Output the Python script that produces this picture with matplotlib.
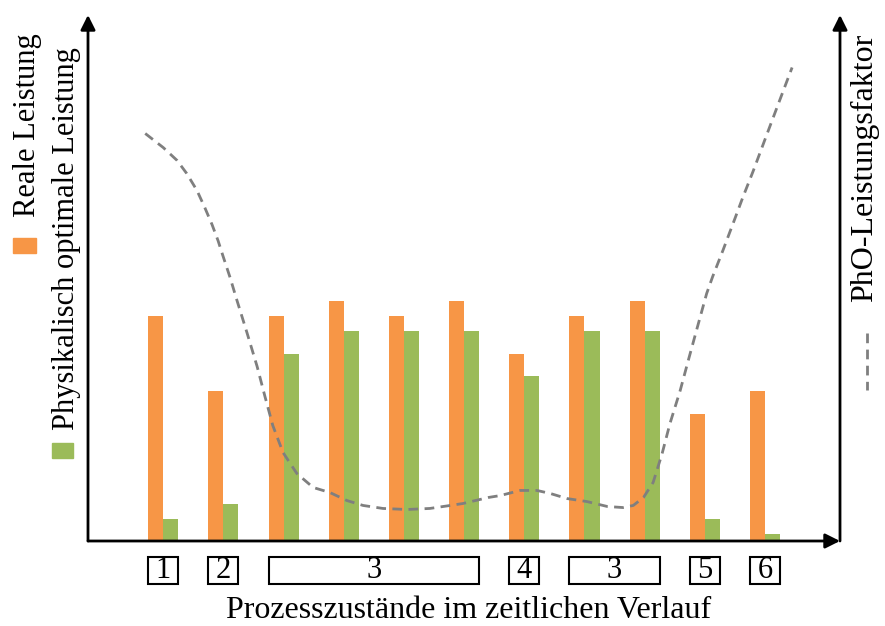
import numpy as np
import matplotlib
matplotlib.use("Agg")
import matplotlib.pyplot as plt
from matplotlib.patches import Rectangle
from matplotlib.lines import Line2D
from matplotlib.transforms import blended_transform_factory

plt.rcParams['font.family'] = ['Liberation Serif', 'DejaVu Serif']

# bar values per process step (arbitrary units)
real = [15, 10, 15, 16, 15, 16, 12.5, 15, 16, 8.5, 10]
optimal = [1.5, 2.5, 12.5, 14, 14, 14, 11, 14, 14, 1.5, 0.5]

# PhO performance factor curve (x in step units, y in bar units)
pho_x = [-0.30, 0.00, 0.23, 0.39, 0.56, 0.69, 0.81, 0.91, 0.99, 1.11, 1.22,
         1.39, 1.56, 1.69, 1.82, 1.99, 2.22, 2.49, 2.77, 3.05, 3.32, 3.65,
         4.05, 4.43, 4.77, 4.98, 5.40, 5.60, 5.93, 6.21, 6.43, 6.71, 7.04,
         7.38, 7.64, 7.81, 7.98, 8.14, 8.29, 8.42, 8.59, 8.72, 8.87, 9.03,
         9.13, 9.30, 9.50, 9.63, 9.80, 10.03, 10.13, 10.33, 10.45]
pho_y = [27.17, 26.23, 25.37, 24.5, 23.37, 22.23, 21.1, 20.03, 19.03, 17.57,
         16.1, 13.9, 11.63, 9.63, 7.7, 5.9, 4.5, 3.57, 3.23, 2.7, 2.37,
         2.17, 2.1, 2.17, 2.37, 2.5, 2.9, 3.03, 3.37, 3.37, 3.17, 2.83, 2.63,
         2.3, 2.23, 2.37, 2.9, 3.9, 5.83, 7.83, 10.03, 11.97, 14.17, 16.5,
         17.63, 19.37, 21.5, 22.9, 24.63, 27.1, 28.17, 30.3, 31.57]

# process state boxes: (first step, last step, label)
states = [(0, 0, '1'), (1, 1, '2'), (2, 5, '3'), (6, 6, '4'),
          (7, 8, '3'), (9, 9, '5'), (10, 10, '6')]

orange = '#F79646'
green = '#9BBB59'
grey = '#7f7f7f'
fs = 23

W, H = 885, 626
fig = plt.figure(figsize=(W / 100, H / 100), dpi=100)
ax = fig.add_axes([88 / W, (H - 541) / H, (840 - 88) / W, (541 - 15) / H])

x = np.arange(len(real))
bw = 0.25
ax.bar(x - bw / 2, real, bw, color=orange, linewidth=0)
ax.bar(x + bw / 2, optimal, bw, color=green, linewidth=0)
ax.plot(pho_x, pho_y, color=grey, lw=2, linestyle=(0, (3.5, 2.3)))

ax.set_xlim(-1.251, 11.246)
ax.set_ylim(0, 35.07)
for s in ax.spines.values():
    s.set_visible(False)
ax.set_xticks([])
ax.set_yticks([])

# axes drawn as arrows
arrow = dict(arrowstyle='-|>', lw=2, color='black', mutation_scale=22,
             shrinkA=0, shrinkB=0)
ax.annotate('', xy=(0, 1), xytext=(0, 0), xycoords='axes fraction',
            arrowprops=arrow, annotation_clip=False)
ax.annotate('', xy=(1, 1), xytext=(1, 0), xycoords='axes fraction',
            arrowprops=arrow, annotation_clip=False)
ax.annotate('', xy=(1, 0), xytext=(0, 0), xycoords='axes fraction',
            arrowprops=arrow, annotation_clip=False)

# numbered boxes below the x axis
trans = blended_transform_factory(ax.transData, ax.transAxes)
y_top = (541 - 557) / 526
y_bot = (541 - 584) / 526
for a, b, lab in states:
    x0, x1 = a - bw, b + bw
    ax.add_patch(Rectangle((x0, y_bot), x1 - x0, y_top - y_bot, transform=trans,
                           fill=False, lw=1.5, ec='black', clip_on=False))
    ax.text((x0 + x1) / 2, (y_top + y_bot) / 2, lab, transform=trans,
            ha='center', va='center', fontsize=22, clip_on=False)

fig.text(469 / W, 1 - 610 / H, 'Prozesszustände im zeitlichen Verlauf',
         ha='center', va='center', fontsize=fs)

# left legend, rotated
fig.text(27.5 / W, 1 - 217 / H, 'Reale Leistung', rotation=90,
         ha='center', va='bottom', fontsize=22)
fig.patches.append(Rectangle((13 / W, 1 - 253 / H), 23 / W, 15 / H,
                             transform=fig.transFigure, color=orange))
fig.text(67 / W, 1 - 430 / H, 'Physikalisch optimale Leistung', rotation=90,
         ha='center', va='bottom', fontsize=22)
fig.patches.append(Rectangle((52 / W, 1 - 458 / H), 21 / W, 15 / H,
                             transform=fig.transFigure, color=green))

# right legend, rotated
fig.text(865 / W, 1 - 302 / H, 'PhO-Leistungsfaktor', rotation=90,
         ha='center', va='bottom', fontsize=fs)
fig.lines.append(Line2D([867 / W, 867 / W], [1 - 333 / H, 1 - 390 / H],
                        transform=fig.transFigure, color=grey, lw=2,
                        linestyle=(0, (3.5, 2.3))))

fig.savefig('out.png', dpi=100)
